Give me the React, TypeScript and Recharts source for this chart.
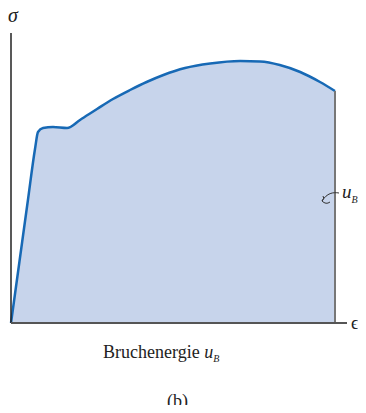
import React from 'react'
import { ComposedChart, Area, XAxis, YAxis, ReferenceLine, ReferenceDot } from 'recharts'

// strain (%) and stress (arbitrary units) along the stress-strain curve
const strain = [0, 0.7, 1.4, 2.0, 2.25, 2.67, 3.5, 4.67, 5.75, 7.17, 8.5, 9.92, 11.3, 12.7, 14.5, 16.6, 19.1, 20.75, 22.4, 24.1, 25.75, 27]
const stress = [0, 12.2, 24.4, 34.8, 38.2, 39, 39.2, 39, 40.6, 42.8, 44.8, 46.6, 48.2, 49.6, 51, 51.9, 52.4, 52.3, 51.6, 50.2, 48.2, 46.4]

const data = strain.map((e, i) => ({ e, s: stress[i] }))
const lastE = strain[strain.length - 1]
const lastS = stress[stress.length - 1]

const serif = '"Liberation Serif", "Times New Roman", serif'

// leader line plus the u_B label, drawn relative to the dot position
const EnergyLabel = (props: any) => {
  const { cx, cy } = props
  return (
    <g>
      <path
        d={`M ${cx - 13} ${cy + 1} q 3 -3 1 -5 M ${cx - 13} ${cy + 1} q 4 4 8 1 M ${cx - 13} ${cy + 1} C ${cx - 8} ${cy - 7}, ${cx - 2} ${cy - 8}, ${cx + 4} ${cy - 7}`}
        fill="none"
        stroke="#333"
        strokeWidth={1}
      />
      <text x={cx + 7} y={cy - 2} fontFamily={serif} fontStyle="italic" fontSize={19} fill="#222">
        u
        <tspan dy={5} fontSize={10}>B</tspan>
      </text>
    </g>
  )
}

export default function App() {
  return (
    <div style={{ position: 'relative', width: 358, height: 397, fontFamily: serif }}>
      <ComposedChart
        width={358}
        height={397}
        data={data}
        margin={{ top: 25, right: 19, left: 3, bottom: 82 }}
      >
        <XAxis type="number" dataKey="e" domain={[0, 28]} hide />
        <YAxis type="number" domain={[0, 58]} hide />
        <Area
          type="monotone"
          dataKey="s"
          stroke="#1769b5"
          strokeWidth={2.5}
          fill="#c7d4eb"
          fillOpacity={1}
          isAnimationActive={false}
        />
        <ReferenceLine
          segment={[{ x: lastE, y: 0 }, { x: lastE, y: lastS }]}
          stroke="#777"
          strokeWidth={2}
        />
        <ReferenceLine x={0} stroke="#222" strokeWidth={1.5} />
        <ReferenceLine y={0} stroke="#555" strokeWidth={2} />
        <ReferenceDot x={lastE} y={24.6} r={0} shape={EnergyLabel} />
      </ComposedChart>
      <div style={{ position: 'absolute', left: 0, top: -4, fontSize: 20, fontStyle: 'italic', color: '#222' }}>σ</div>
      <div style={{ position: 'absolute', left: 343, top: 305, fontSize: 18, color: '#222' }}>ϵ</div>
      <div style={{ position: 'absolute', left: 95, top: 334, fontSize: 18, color: '#222', whiteSpace: 'nowrap' }}>
        Bruchenergie <i>u</i>
        <i style={{ fontSize: 10, position: 'relative', top: 4 }}>B</i>
      </div>
      <div style={{ position: 'absolute', left: 159, top: 383, fontSize: 18, color: '#222' }}>(b)</div>
    </div>
  )
}
